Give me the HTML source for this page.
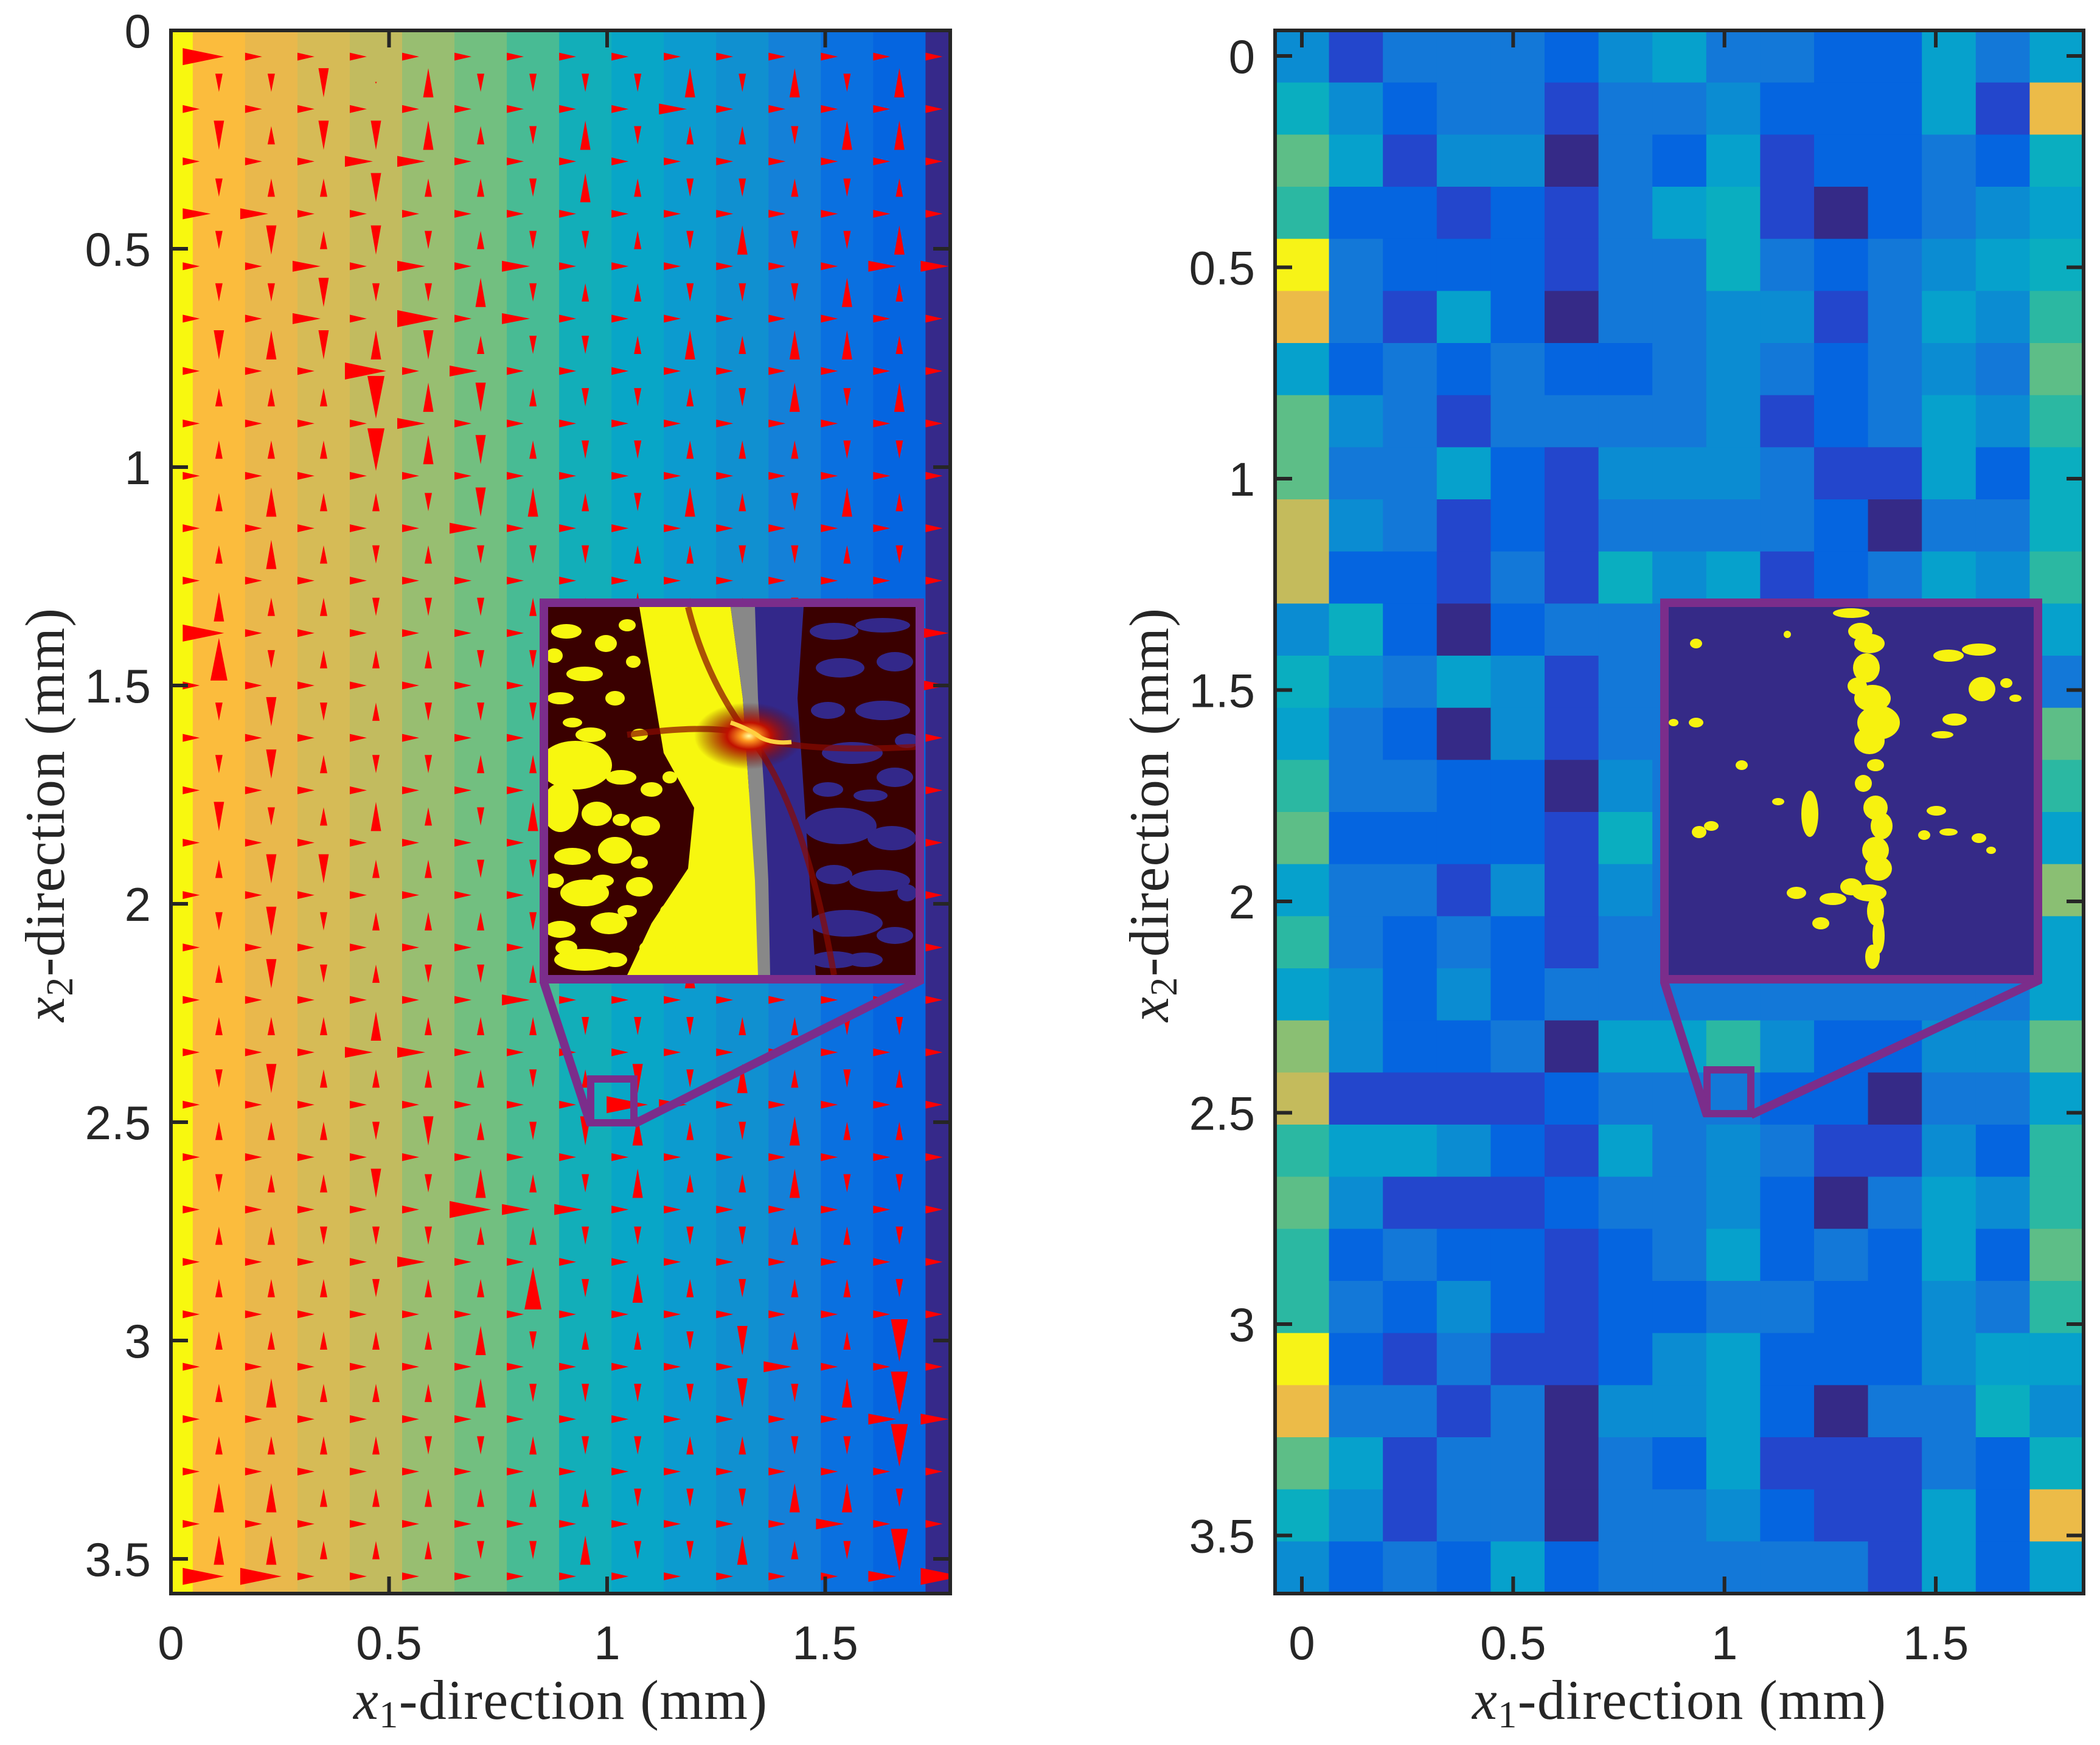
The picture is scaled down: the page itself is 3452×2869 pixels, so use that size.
<!DOCTYPE html>
<html><head><meta charset="utf-8"><style>
html,body{margin:0;padding:0;background:#fff;}
svg{display:block;}
text{fill:#262626;}
.tick{font-family:"Liberation Sans",sans-serif;font-size:78px;}
.ttl{font-family:"Liberation Serif",serif;font-size:92px;}
</style></head><body>
<svg id="fig" width="3452" height="2869" viewBox="0 0 3452 2869" xmlns="http://www.w3.org/2000/svg">
<defs>
<clipPath id="clipL"><rect x="281" y="50" width="1281" height="2570"/></clipPath>
<clipPath id="clipR"><rect x="2096" y="50" width="1329" height="2570"/></clipPath>
<clipPath id="clipIL"><rect x="0" y="0" width="604" height="605"/></clipPath>
<radialGradient id="glow" cx="0.5" cy="0.5" r="0.5"><stop offset="0" stop-color="#ffffa0"/><stop offset="0.15" stop-color="#ff9a20"/><stop offset="0.4" stop-color="#c01000"/><stop offset="1" stop-color="#5a0000" stop-opacity="0"/></radialGradient>
</defs>
<g id="left-plot"><g id="lcells" clip-path="url(#clipL)"></g><g id="arrows" clip-path="url(#clipL)"></g></g>
<g id="right-plot"><g id="rcells" clip-path="url(#clipR)"></g></g>
<g id="overlays"></g>
<g id="axes"></g>
</svg>
<script>
// ---- data ----
const leftColumnColors=['#f8f80f','#fbbc3d','#e9b84c','#d6bb56','#c2bb5f','#98be71','#72bf80','#48bb94','#12aeb9','#08a6c7','#0c9bcf','#1090d0','#1480d8','#0a70e0','#0565e0','#36298a'];
const leftColumnEdges=[0,0.05,0.17,0.29,0.41,0.53,0.65,0.77,0.89,1.01,1.13,1.25,1.37,1.49,1.61,1.73,1.80];
const vertArrows=[
"ddD.UddddUdUdU","DuDDUudUduudUU","duuDuudUuddudu","dDuDduddudUddU","ddDddUduudddUu",
"DUDUDudduUuUUu","uuuvUDuddudUdU","uuuvUDudduuudd","uUuudDUudUudUu","uUududdduuddud",
"UuuddduuUuuduu","^duuuddudddddu","dDdudddDuudduu","dDudduudduuudu","DduUudUuuudddu",
"uDDuuddudduddd","dDduuudduudduu","uDdudduduUuudd","uuuUuuuddduudd","dDuuuuduDdUudu",
"uuudDudDUudUuu","duuDdUudUuuUdd","uuddduudddduud","uuuduu^dUuduud","uuuuuUduudDuuv",
"uUuuuUddddDdUV","uuuuddudduuddV","UUuuuuuudddUUd","UUuuuddUddUudV"];
const horizArrows=[
"Bhhhhhhhhhhhhhh","hhhhhhhhhHhhhhh","hhhHHhhhhhhhhhh","HHhhhhhhhhhhhhh","hhHhHhHhhhhhhHH",
"hhHhBhHhhhhhhhh","hhhBhHhhhhhhhhh","hhhhHhhhhhhhhhh","hhhhhhhhhhhhhhh","hhhhhHhhhhhhhhh",
"hhhhhhhhhhhhhhh","BhhhhhhhhhhhhhH","hhhhhhhhhhhhhhH","hhhhhhhhhhhhhhh","hhhhhhhhhhhhhhh",
"hhhhhhhhhhhhhhh","hhhhhhhhhhhhhhh","hhhhhhhhhhhhhhh","hhhhhhHhhhhhhhh","hhhHHhhhhhhhhhh",
"hhhhhhhhBHhhhhh","hhhhhhhhhhhhhhh","hhhhhBHHhhhhhhh","hhhhHhhhhhhhhhh","hhhhhhhhhhhhhhh",
"hhhhhhhhhhhHhhh","hhhhhhhhhhhhhHH","hhhhhhhhhhhhhhh","hhhhhhhhhhhhHhh","BBhhhhhhhhhhhHB"];
const heatLevels=[
[4,1,3,3,3,2,4,5,3,3,2,2,5,3,5],[6,4,2,3,3,1,3,3,4,2,2,2,5,1,11],[8,5,1,4,4,0,3,2,5,1,2,2,3,2,6],
[7,2,2,1,2,1,3,5,6,1,0,2,3,4,5],[12,3,2,2,2,1,3,3,6,3,2,3,4,5,6],[11,3,1,5,2,0,3,3,4,4,1,3,5,4,7],
[5,2,3,2,3,2,2,3,4,3,2,3,4,3,8],[8,4,3,1,3,3,3,3,4,1,2,3,5,4,7],[8,3,3,5,2,1,4,4,4,3,1,1,5,2,6],
[10,4,3,1,2,1,3,3,3,3,2,0,3,3,6],[10,2,2,1,3,1,6,4,5,1,2,3,5,4,7],[4,6,2,0,2,3,3,3,4,4,3,3,3,3,5],
[6,4,3,5,4,1,3,3,3,3,3,3,3,3,3],[5,3,2,0,4,1,3,3,3,3,3,3,3,3,8],[7,3,3,2,2,0,4,3,3,3,3,3,3,3,7],
[8,2,2,2,2,1,6,3,3,3,3,3,3,3,5],[5,3,3,1,4,1,4,3,3,3,3,3,3,3,9],[7,3,2,3,2,1,3,3,3,3,3,3,3,3,5],
[5,4,2,4,2,3,3,3,3,3,3,3,3,3,5],[9,4,2,2,3,0,5,5,7,4,2,2,4,4,8],[10,1,1,1,1,2,3,3,3,2,2,0,3,3,5],
[7,5,5,4,2,1,5,3,4,3,1,1,4,2,7],[8,4,1,1,1,2,3,3,4,2,0,3,5,4,7],[7,2,3,2,2,1,2,3,5,2,3,2,5,2,8],
[7,3,2,4,2,1,2,2,3,3,2,2,4,3,7],[12,2,1,3,1,1,2,4,5,2,2,2,4,5,5],[11,3,3,1,3,0,4,4,5,2,0,3,3,6,4],
[8,5,1,3,3,0,3,2,5,1,1,1,3,2,6],[6,4,1,3,3,0,3,3,4,2,1,1,5,2,11],[4,2,3,2,5,2,3,3,3,3,3,1,5,2,5]];
const parula=['#352a87','#2346cc','#0565e0','#1378d8','#0b8cd2','#06a1cc','#0aaec0','#2bb8a2','#5dbe87','#8abf73','#c4bb5c','#ecbb48','#f7f317'];
const xTicks=[0,0.5,1,1.5];
const yTicks=[0,0.5,1,1.5,2,2.5,3,3.5];
const xTickLabels=['0','0.5','1','1.5'];
const yTickLabels=['0','0.5','1','1.5','2','2.5','3','3.5'];

// ---- axis functions ----
const xL=v=>281+717*v, yL=v=>50+718*v;
const xR=v=>2140+694.7*v, yR=v=>92+695*v;
const RX0=2096,RX1=3425,RY0=50,RY1=2620;
const NS='http://www.w3.org/2000/svg';
function mk(tag,attrs,parent){const e=document.createElementNS(NS,tag);for(const k in attrs)e.setAttribute(k,attrs[k]);parent.appendChild(e);return e;}
const lc=document.getElementById('lcells'),ar=document.getElementById('arrows'),rc=document.getElementById('rcells'),ov=document.getElementById('overlays'),ax=document.getElementById('axes');

leftColumnColors.forEach((c,i)=>{
 const x0=xL(leftColumnEdges[i]),x1=xL(leftColumnEdges[i+1]);
 const r=mk('rect',{x:x0,y:40,width:x1-x0+0.5,height:2600,fill:c},lc);
 
 
});
const vSize={u:[30,12],d:[30,12],U:[48,17],D:[48,17],'^':[70,28],v:[70,28],V:[70,28],'.':[3,3]};
vertArrows.forEach((row,j)=>{
 const cy=yL(0.12*(j+1));
 [...row].forEach((ch,i)=>{
  const cx=xL(0.11+0.12*i);const s=vSize[ch];const L=s[0],w=s[1];
  const up=(ch==='u'||ch==='U'||ch==='^');
  const pts=up?`${cx},${cy-L/2} ${cx-w/2},${cy+L/2} ${cx+w/2},${cy+L/2}`:`${cx},${cy+L/2} ${cx-w/2},${cy-L/2} ${cx+w/2},${cy-L/2}`;
  const p=mk('polygon',{points:pts,fill:'#ff0000'},ar);
  
  
 });
});
const hSize={h:[28,13],H:[46,18],B:[68,28]};
horizArrows.forEach((row,j)=>{
 const cy=yL(0.06+0.12*j);
 [...row].forEach((ch,i)=>{
  const s=hSize[ch];const L=s[0],w=s[1];
  let bx=xL(0.05+0.12*i)-(L>40?8:0); if(i===0) bx=xL(0.027);
  const p=mk('polygon',{points:`${bx},${cy-w/2} ${bx},${cy+w/2} ${bx+L},${cy}`,fill:'#ff0000'},ar);
  
  
 });
});
const cw=(RX1-RX0)/15, ch=(RY1-RY0)/30;
heatLevels.forEach((row,j)=>row.forEach((v,i)=>{
 const r=mk('rect',{x:RX0+i*cw,y:RY0+j*ch,width:cw+0.6,height:ch+0.6,fill:parula[v]},rc);
 
 
}));

// ---- left inset ----
const gL=mk('g',{transform:'translate(901,998)'},ov);


const gLc=mk('g',{'clip-path':'url(#clipIL)'},gL);
mk('rect',{x:0,y:0,width:604,height:605,fill:'#3a0000'},gLc);
mk('polygon',{points:'330,0 420,0 410,150 420,300 430,450 440,605 355,605 350,450 340,300 330,150',fill:'#33288a'},gLc);
mk('polygon',{points:'150,0 300,0 320,150 330,300 345,450 350,605 130,605 170,520 230,430 240,330 190,240 170,120',fill:'#f7f70f'},gLc);
mk('polygon',{points:'300,0 340,0 345,150 355,300 362,450 365,605 345,605 340,450 330,300 320,150',fill:'#888888'},gLc);
const yb=[[30,40,25,12],[95,60,18,14],[60,110,30,12],[20,150,22,10],[110,150,16,12],[70,210,25,12],[130,30,14,10],[45,260,60,40],[20,330,30,40],[120,280,25,12],[80,340,25,20],[40,410,30,14],[110,400,28,22],[160,360,24,16],[60,470,40,22],[20,530,25,14],[100,520,30,18],[60,580,50,18],[190,60,14,14],[220,110,18,12],[230,180,12,14],[200,220,12,10],[150,460,22,16],[180,560,30,14],
[10,80,14,12],[140,90,12,10],[40,190,16,8],[150,210,14,10],[170,300,18,12],[120,350,14,10],[10,450,16,12],[150,420,14,10],[90,450,18,10],[130,500,16,10],[30,560,18,12],[200,500,16,12],[110,580,20,12],[200,280,12,10]];
yb.forEach(b=>mk('ellipse',{cx:b[0],cy:b[1],rx:b[2],ry:b[3],fill:'#f7f70f'},gLc));
const nb=[[470,40,40,14],[550,30,45,12],[480,100,40,16],[570,90,30,16],[460,170,28,14],[550,170,45,16],[500,240,50,18],[460,300,25,12],[570,280,30,16],[480,360,60,30],[565,380,40,20],[470,440,30,16],[545,450,50,18],[490,520,60,22],[570,540,30,14],[470,580,40,14],[530,310,28,10],[590,220,20,12],[590,470,16,14],[520,580,30,12]];
nb.forEach(b=>mk('ellipse',{cx:b[0],cy:b[1],rx:b[2],ry:b[3],fill:'#33288a'},gLc));
mk('path',{d:'M 130 210 Q 280 190 330 212 Q 420 240 604 230 M 330 212 Q 420 320 470 605 M 330 212 Q 260 120 230 0',stroke:'#8a0a00','stroke-width':10,fill:'none',opacity:0.7},gLc);
mk('ellipse',{cx:330,cy:212,rx:90,ry:55,fill:'url(#glow)'},gLc);
mk('path',{d:'M 300 190 Q 330 200 350 215 Q 370 225 400 222',stroke:'#ffd040','stroke-width':7,fill:'none'},gLc);

// ---- right inset ----
const gR=mk('g',{transform:'translate(2743,998)'},ov);


mk('rect',{x:0,y:0,width:601,height:605,fill:'#352a87'},gR);
const rb=[[300,10,30,8],[315,40,20,14],[330,60,25,16],[325,100,22,24],[310,130,16,14],[335,150,30,22],[345,190,35,28],[330,220,25,22],[340,260,14,10],[320,290,14,14],[340,330,20,20],[350,360,18,22],[340,400,22,22],[345,430,22,20],[330,470,28,14],[340,500,14,24],[345,540,10,30],[335,575,12,20],[300,460,18,14],[270,480,22,10],[250,520,14,10],[232,340,14,38],[210,470,16,10],[510,70,28,10],[460,80,25,10],[515,135,22,20],[470,185,20,10],[450,210,18,6],[440,335,16,8],[460,370,15,6],[510,380,12,8],[555,125,10,8],[570,150,10,6],[45,60,10,8],[45,190,12,8],[50,370,12,10],[70,360,12,8],[120,260,10,8],[180,320,10,6],[195,45,6,6],[8,190,8,6],[420,375,10,8],[530,400,8,6]];
rb.forEach(b=>mk('ellipse',{cx:b[0],cy:b[1],rx:b[2],ry:b[3],fill:'#f7f20f'},gR));

function frame(x0,y0,x1,y1,bx0,by0,bx1,by1,name){
 const g=mk('g',{fill:'none',stroke:'#7b2d8b','stroke-width':14},ov);
 
 
 mk('rect',{x:x0+7,y:y0+7,width:x1-x0-14,height:y1-y0-14},g);
 mk('rect',{x:bx0+6,y:by0+6,width:bx1-bx0-12,height:by1-by0-12,'stroke-width':12},g);
 mk('line',{x1:x0+7,y1:y1-2,x2:bx0+6,y2:by1-3},g);
 mk('line',{x1:x1-4,y1:y1-6,x2:bx1-6,y2:by1-4},g);
}
frame(887,984,1519,1617,965,1768,1048,1852,'left-inset-frame');
frame(2729,984,3357,1617,2800,1753,2884,1837,'right-inset-frame');

function axes(X0,Y0,X1,Y1,fx,fy,name){
 const g=mk('g',{},ax);
 
 
 mk('rect',{x:X0,y:Y0,width:X1-X0,height:Y1-Y0,fill:'none',stroke:'#262626','stroke-width':6},g);
 xTicks.forEach((t,k)=>{const x=fx(t);
  mk('line',{x1:x,y1:Y0,x2:x,y2:Y0+28,stroke:'#262626','stroke-width':6},g);
  mk('line',{x1:x,y1:Y1,x2:x,y2:Y1-28,stroke:'#262626','stroke-width':6},g);
  const tx=mk('text',{x:x,y:2728,'text-anchor':'middle',class:'tick'},g);tx.textContent=xTickLabels[k];
  
  
 });
 yTicks.forEach((t,k)=>{const y=fy(t);
  mk('line',{x1:X0,y1:y,x2:X0+28,y2:y,stroke:'#262626','stroke-width':6},g);
  mk('line',{x1:X1,y1:y,x2:X1-28,y2:y,stroke:'#262626','stroke-width':6},g);
  const tx=mk('text',{x:X0-33,y:y+28,'text-anchor':'end',class:'tick'},g);tx.textContent=yTickLabels[k];
  
  
 });
}
axes(281,50,1562,2620,xL,yL,'left-axes');
axes(RX0,RY0,RX1,RY1,xR,yR,'right-axes');
</script>
<svg style="position:absolute;left:0;top:0" width="3452" height="2869">
<text class="ttl" x="921" y="2826" text-anchor="middle" textLength="680"><tspan font-style="italic">x</tspan><tspan font-size="62" dy="14">1</tspan><tspan dy="-14">-direction (mm)</tspan></text>
<text class="ttl" x="2760" y="2826" text-anchor="middle" textLength="680"><tspan font-style="italic">x</tspan><tspan font-size="62" dy="14">1</tspan><tspan dy="-14">-direction (mm)</tspan></text>
<text class="ttl" transform="translate(105,1340) rotate(-90)" text-anchor="middle" textLength="680"><tspan font-style="italic">x</tspan><tspan font-size="62" dy="14">2</tspan><tspan dy="-14">-direction (mm)</tspan></text>
<text class="ttl" transform="translate(1920,1340) rotate(-90)" text-anchor="middle" textLength="680"><tspan font-style="italic">x</tspan><tspan font-size="62" dy="14">2</tspan><tspan dy="-14">-direction (mm)</tspan></text>
</svg>
</body></html>
